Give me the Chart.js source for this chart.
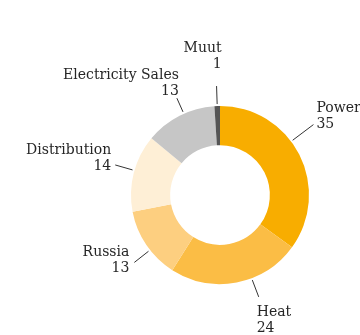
<!DOCTYPE html>
<html>
<head>
<meta charset="utf-8">
<script src="https://cdn.jsdelivr.net/npm/chart.js@4.4.1/dist/chart.umd.min.js"></script>
<style>
  html, body { margin: 0; padding: 0; background: #fff; }
  #wrap { position: relative; width: 360px; height: 335px; }
</style>
</head>
<body>
<div id="wrap"><canvas id="mix-chart"></canvas></div>
<script>
  // Share of operating profit by segment, %
  const segments = ["Power", "Heat", "Russia", "Distribution", "Electricity Sales", "Muut"];
  const shares = [35, 24, 13, 14, 13, 1];
  const sliceColors = ["#f8ad00", "#fbbd45", "#fdcf80", "#feefd6", "#c6c6c6", "#555555"];

  // Leader line + two-line label (name over value) for every slice
  const sliceLabels = {
    id: "sliceLabels",
    afterDatasetsDraw(chart, args, opts) {
      const meta = chart.getDatasetMeta(0);
      const ctx = chart.ctx;
      ctx.save();
      ctx.font = opts.font;
      ctx.fillStyle = opts.color;
      ctx.strokeStyle = opts.lineColor;
      ctx.lineWidth = 1;
      ctx.textBaseline = "alphabetic";
      meta.data.forEach((arc, i) => {
        const p = arc.getProps(["x", "y", "startAngle", "endAngle", "outerRadius"], true);
        const t = opts.layout[i] || {};
        const mid = (p.startAngle + p.endAngle) / 2 + (t.shift || 0) * Math.PI / 180;
        const ux = Math.cos(mid), uy = Math.sin(mid);
        const r0 = p.outerRadius + 2;
        const r1 = p.outerRadius + (t.ext || 20);
        ctx.beginPath();
        ctx.moveTo(p.x + ux * r0, p.y + uy * r0);
        ctx.lineTo(p.x + ux * r1, p.y + uy * r1);
        ctx.stroke();

        const tx = p.x + ux * r1 + (t.dx || 0);
        const ty = p.y + uy * r1 + (t.dy || 0);
        ctx.textAlign = ux >= 0 ? "left" : "right";
        ctx.fillText(segments[i], tx, ty - opts.lineHeight);
        ctx.fillText(String(shares[i]), tx, ty);
      });
      ctx.restore();
    }
  };

  new Chart(document.getElementById("mix-chart"), {
    type: "doughnut",
    data: {
      labels: segments,
      datasets: [{
        data: shares,
        backgroundColor: sliceColors,
        borderWidth: 0,
      }],
    },
    options: {
      responsive: true,
      maintainAspectRatio: false,
      animation: false,
      cutout: "56%",
      layout: { padding: { left: 131, right: 51, top: 106, bottom: 51 } },
      plugins: {
        legend: { display: false },
        tooltip: { enabled: false },
        sliceLabels: {
          font: "14px 'DejaVu Serif', serif",
          color: "#262626",
          lineColor: "#333333",
          lineHeight: 16,
          layout: [
            { shift: -10, ext: 28, dx: 3, dy: 3 },   // Power
            { shift: -10, ext: 20, dx: -2, dy: 35 }, // Heat
            { shift: -4, ext: 20, dx: -5, dy: 10 },  // Russia
            { shift: 1.6, ext: 20, dx: -4, dy: 5 },  // Distribution
            { shift: 3, ext: 17, dx: 2, dy: -3 },    // Electricity Sales
            { shift: 0, ext: 20, dx: 5, dy: -18 },   // Muut
          ],
        },
      },
    },
    plugins: [sliceLabels],
  });
</script>
</body>
</html>
